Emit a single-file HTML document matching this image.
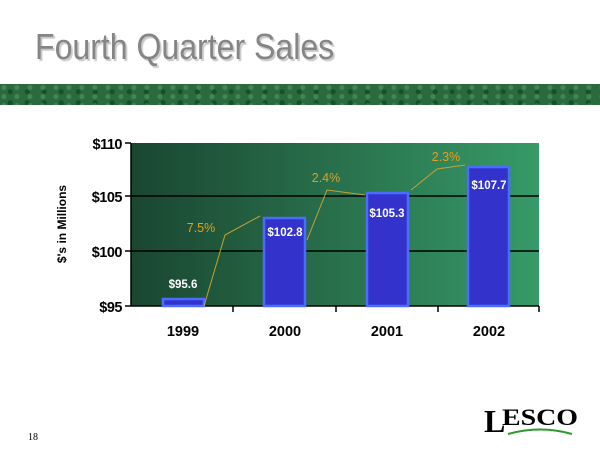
<!DOCTYPE html>
<html><head><style>
body{margin:0;width:600px;height:450px;background:#fff;overflow:hidden;position:relative;font-family:"Liberation Sans",sans-serif}
.t{position:absolute;left:35px;top:26px;font-size:36px;color:#858585;text-shadow:2px 2px 1px #c8c8c8;transform:scaleX(0.89);transform-origin:0 0;white-space:nowrap}
.band{position:absolute;left:0;top:84px;width:600px;height:21px;background:
radial-gradient(circle at 30% 40%,rgba(120,180,130,.35) 0 2px,transparent 3px) 0 0/13px 9px,
radial-gradient(circle at 60% 70%,rgba(10,50,25,.5) 0 2px,transparent 3px) 0 0/17px 11px,
#2a6a3c;}
</style></head><body>
<div class="t">Fourth Quarter Sales</div>
<div class="band"></div>
<svg width="600" height="450" style="position:absolute;left:0;top:0">
<defs><linearGradient id="g" x1="0" x2="1"><stop offset="0" stop-color="#1a4630"/><stop offset="1" stop-color="#379a68"/></linearGradient></defs>
<rect x="131" y="143" width="408" height="163" fill="url(#g)"/>
<g stroke="#000" stroke-width="1.5">
<line x1="131" y1="196" x2="539" y2="196"/><line x1="131" y1="251" x2="539" y2="251"/>
<line x1="131" y1="143" x2="131" y2="306"/><line x1="125" y1="306" x2="539" y2="306"/>
<line x1="125" y1="143" x2="131" y2="143"/><line x1="125" y1="196" x2="131" y2="196"/><line x1="125" y1="251" x2="131" y2="251"/>
<line x1="233" y1="306" x2="233" y2="312"/><line x1="336" y1="306" x2="336" y2="312"/><line x1="438" y1="306" x2="438" y2="312"/><line x1="539" y1="306" x2="539" y2="312"/>
</g>
<g fill="#3333cc" stroke="#4a6cff" stroke-width="2.5">
<rect x="163" y="299" width="41" height="7"/><rect x="264" y="218" width="41" height="88"/>
<rect x="367" y="193" width="41" height="113"/><rect x="468" y="167" width="41" height="139"/>
</g>
<g fill="none" stroke="#c8a030" stroke-width="1">
<polyline points="204,306 225,235 260,216"/><polyline points="307,240 327,190 365,195"/><polyline points="411,190 437,169 465,165"/>
</g>
<g font-size="14.5" font-weight="bold" fill="#000" text-anchor="end" letter-spacing="-0.5">
<text x="122" y="149">$110</text><text x="122" y="202">$105</text><text x="122" y="257">$100</text><text x="122" y="312">$95</text>
</g>
<g font-size="14.5" font-weight="bold" fill="#000" text-anchor="middle">
<text x="183" y="336">1999</text><text x="285" y="336">2000</text><text x="387" y="336">2001</text><text x="489" y="336">2002</text>
</g>
<text transform="translate(66,224) rotate(-90)" font-size="12" font-weight="bold" text-anchor="middle">$'s in Millions</text>
<g font-size="11.5" font-weight="bold" fill="#fff" text-anchor="middle">
<text x="183" y="288">$95.6</text><text x="285" y="236">$102.8</text><text x="387" y="217">$105.3</text><text x="489" y="189">$107.7</text>
</g>
<g font-size="12.5" fill="#e0a020" text-anchor="middle">
<text x="201" y="232">7.5%</text><text x="326" y="182">2.4%</text><text x="446" y="161">2.3%</text>
</g>
<text x="28" y="440" font-size="10" font-family="Liberation Serif">18</text>
<text x="484" y="432" font-size="32" font-weight="bold" font-family="Liberation Serif">L</text>
<text x="502" y="425" font-size="23" font-weight="bold" font-family="Liberation Serif" textLength="76" lengthAdjust="spacingAndGlyphs">ESCO</text>
<path d="M508 434 Q540 425 572 434" stroke="#2a9a2a" stroke-width="2" fill="none"/>
</svg>
</body></html>
